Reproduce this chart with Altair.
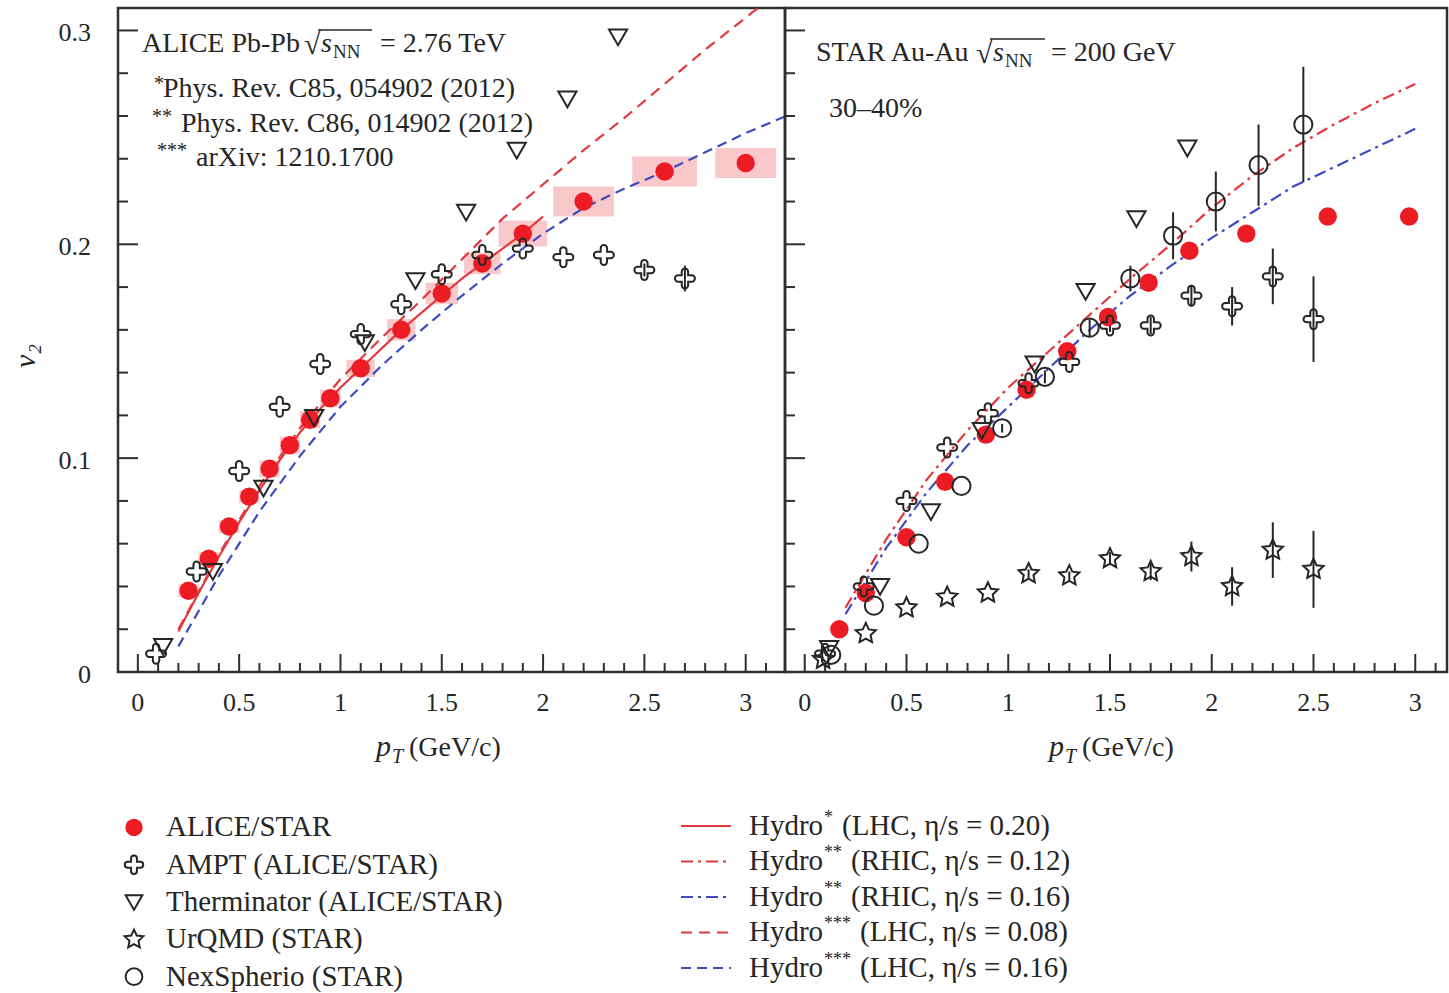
import math
import altair as alt
import pandas as pd

SERIF = "Liberation Serif"
INK = "#262626"
FRAME = "#2f2f2f"
RED_PT = "#ec1b24"
RED_LN = "#e2393f"
BLUE_LN = "#3e4bc2"
PINK = "#f7c2c5"

# plot-area sizes of the two panels and their scale domains
W_LEFT, W_RIGHT, H_PLOT = 667, 662, 664
X_DOM_LEFT = [-0.098, 3.194]
X_DOM_RIGHT = [-0.097, 3.156]
Y_DOM = [0.0, 0.3105]

# ---------------- ALICE Pb-Pb, 2.76 TeV (left panel) ----------------
alice_pt = [0.25, 0.35, 0.45, 0.55, 0.65, 0.75, 0.85, 0.95, 1.1, 1.3, 1.5, 1.7, 1.9, 2.2, 2.6, 3.0]
alice_v2 = [0.038, 0.053, 0.068, 0.082, 0.095, 0.106, 0.118, 0.128, 0.142, 0.160, 0.177, 0.191,
            0.205, 0.220, 0.234, 0.238]
alice_sys_pt = [0.05, 0.05, 0.05, 0.05, 0.05, 0.05, 0.05, 0.05, 0.07, 0.07, 0.08, 0.09, 0.12, 0.15, 0.16, 0.15]
alice_sys_v2 = [0.003, 0.003, 0.003, 0.003, 0.004, 0.004, 0.004, 0.004, 0.004, 0.005, 0.005, 0.005,
                0.006, 0.007, 0.007, 0.007]

ampt_alice_pt = [0.09, 0.29, 0.5, 0.7, 0.9, 1.1, 1.3, 1.5, 1.7, 1.9, 2.1, 2.3, 2.5, 2.7]
ampt_alice_v2 = [0.0085, 0.047, 0.094, 0.124, 0.144, 0.158, 0.172, 0.186, 0.195, 0.198, 0.194, 0.195,
                 0.188, 0.184]
ampt_alice_err = [0, 0, 0, 0, 0, 0, 0, 0, 0, 0, 0, 0, 0.003, 0.006]

therm_alice_pt = [0.125, 0.37, 0.62, 0.87, 1.12, 1.37, 1.62, 1.87, 2.12, 2.37]
therm_alice_v2 = [0.012, 0.047, 0.086, 0.119, 0.154, 0.183, 0.215, 0.244, 0.268, 0.297]

hydro_lhc020_pt = [0.2, 0.3, 0.4, 0.5, 0.6, 0.7, 0.8, 0.9, 1.0, 1.1, 1.2, 1.3, 1.4, 1.5, 1.6, 1.7, 1.8, 1.9, 2.0]
hydro_lhc020_v2 = [0.019, 0.037, 0.054, 0.070, 0.085, 0.099, 0.112, 0.123, 0.133, 0.142, 0.151, 0.160,
                   0.168, 0.176, 0.184, 0.191, 0.198, 0.205, 0.213]
hydro_lhc008_pt = [0.2, 0.4, 0.6, 0.8, 1.0, 1.2, 1.4, 1.6, 1.8, 2.0, 2.2, 2.4, 2.6, 2.8, 3.0, 3.2]
hydro_lhc008_v2 = [0.020, 0.055, 0.087, 0.114, 0.137, 0.156, 0.174, 0.193, 0.212, 0.228, 0.244, 0.259,
                   0.275, 0.291, 0.306, 0.321]
hydro_lhc016_pt = [0.2, 0.4, 0.6, 0.8, 1.0, 1.2, 1.4, 1.6, 1.8, 2.0, 2.2, 2.4, 2.6, 2.8, 3.0, 3.2]
hydro_lhc016_v2 = [0.012, 0.045, 0.075, 0.101, 0.124, 0.143, 0.160, 0.176, 0.191, 0.205, 0.217, 0.226,
                   0.234, 0.243, 0.252, 0.260]

# ---------------- STAR Au-Au, 200 GeV, 30-40% (right panel) ----------------
star_pt = [0.17, 0.30, 0.50, 0.69, 0.89, 1.09, 1.29, 1.49, 1.69, 1.89, 2.17, 2.57, 2.97]
star_v2 = [0.020, 0.037, 0.063, 0.089, 0.111, 0.132, 0.150, 0.166, 0.182, 0.197, 0.205, 0.213, 0.213]

ampt_star_pt = [0.1, 0.29, 0.5, 0.7, 0.9, 1.1, 1.3, 1.5, 1.7, 1.9, 2.1, 2.3, 2.5]
ampt_star_v2 = [0.0085, 0.040, 0.080, 0.105, 0.121, 0.135, 0.145, 0.162, 0.162, 0.176, 0.171, 0.185, 0.165]
ampt_star_err = [0, 0, 0, 0, 0, 0, 0, 0.003, 0.004, 0.005, 0.009, 0.013, 0.020]

therm_star_pt = [0.12, 0.37, 0.62, 0.87, 1.13, 1.38, 1.63, 1.88]
therm_star_v2 = [0.011, 0.040, 0.075, 0.113, 0.144, 0.178, 0.212, 0.245]

urqmd_pt = [0.09, 0.3, 0.5, 0.7, 0.9, 1.1, 1.3, 1.5, 1.7, 1.9, 2.1, 2.3, 2.5]
urqmd_v2 = [0.006, 0.018, 0.030, 0.035, 0.037, 0.046, 0.045, 0.053, 0.047, 0.054, 0.040, 0.057, 0.048]
urqmd_err = [0, 0, 0, 0, 0, 0.002, 0.002, 0.003, 0.004, 0.007, 0.009, 0.013, 0.018]

nex_pt = [0.13, 0.34, 0.56, 0.77, 0.97, 1.18, 1.40, 1.60, 1.81, 2.02, 2.23, 2.45]
nex_v2 = [0.008, 0.031, 0.060, 0.087, 0.114, 0.138, 0.161, 0.184, 0.204, 0.220, 0.237, 0.256]
nex_err = [0, 0, 0, 0, 0.002, 0.003, 0.004, 0.006, 0.011, 0.014, 0.019, 0.027]

hydro_rhic012_pt = [0.2, 0.4, 0.6, 0.8, 1.0, 1.2, 1.4, 1.6, 1.8, 2.0, 2.2, 2.4, 2.6, 2.8, 3.0]
hydro_rhic012_v2 = [0.030, 0.062, 0.090, 0.113, 0.133, 0.150, 0.167, 0.184, 0.200, 0.217, 0.232, 0.245,
                    0.256, 0.266, 0.275]
hydro_rhic016_pt = [0.2, 0.4, 0.6, 0.8, 1.0, 1.2, 1.4, 1.6, 1.8, 2.0, 2.2, 2.4, 2.6, 2.8, 3.0]
hydro_rhic016_v2 = [0.027, 0.058, 0.084, 0.106, 0.124, 0.142, 0.160, 0.176, 0.190, 0.203, 0.215, 0.227,
                    0.236, 0.245, 0.254]

# ---------------- axis ticks and labels ----------------
x_labels = [0, 0.5, 1, 1.5, 2, 2.5, 3]
x_minor = [0.1, 0.2, 0.3, 0.4, 0.6, 0.7, 0.8, 0.9, 1.1, 1.2, 1.3, 1.4, 1.6, 1.7, 1.8, 1.9,
           2.1, 2.2, 2.3, 2.4, 2.6, 2.7, 2.8, 2.9, 3.1]
y_labels = [0, 0.1, 0.2, 0.3]
y_major = [0.1, 0.2, 0.3]
y_minor = [0.02, 0.04, 0.06, 0.08, 0.12, 0.14, 0.16, 0.18, 0.22, 0.24, 0.26, 0.28]

# ---------------- legend entries ----------------
marker_labels = ["ALICE/STAR", "AMPT (ALICE/STAR)", "Therminator (ALICE/STAR)", "UrQMD (STAR)",
                 "NexSpherio (STAR)"]
marker_kinds = ["data", "ampt", "therm", "urqmd", "nex"]
line_models = ["lhc020", "rhic012", "rhic016", "lhc008", "lhc016"]
line_marks = ["*", "**", "**", "***", "***"]
line_texts = ["(LHC, η/s = 0.20)", "(RHIC, η/s = 0.12)", "(RHIC, η/s = 0.16)",
              "(LHC, η/s = 0.08)", "(LHC, η/s = 0.16)"]

# ---------------- styles (one colour / dash scale shared by every view) ----------------
MODEL_COLOR = {"lhc020": RED_LN, "rhic012": RED_LN, "rhic016": BLUE_LN, "lhc008": RED_LN, "lhc016": BLUE_LN}
MODEL_DASH = {"lhc020": [1, 0], "rhic012": [12, 5, 3, 5], "rhic016": [12, 5, 3, 5],
              "lhc008": [11, 7], "lhc016": [10, 6]}
COLOR_SCALE = alt.Scale(domain=line_models, range=[MODEL_COLOR[m] for m in line_models])
DASH_SCALE = alt.Scale(domain=line_models, range=[MODEL_DASH[m] for m in line_models])


def star_path(n=5, r_out=1.0, r_in=0.48):
    pts = []
    for k in range(2 * n):
        a = -math.pi / 2 + k * math.pi / n
        r = r_out if k % 2 == 0 else r_in
        pts.append(f"{r * math.cos(a):.3f} {r * math.sin(a):.3f}")
    return "M " + " L ".join(pts) + " Z"


CROSS = ("M -0.32 -0.32 L -0.32 -0.68 A 0.32 0.32 0 0 1 0.32 -0.68 L 0.32 -0.32 L 0.68 -0.32 "
         "A 0.32 0.32 0 0 1 0.68 0.32 L 0.32 0.32 L 0.32 0.68 A 0.32 0.32 0 0 1 -0.32 0.68 "
         "L -0.32 0.32 L -0.68 0.32 A 0.32 0.32 0 0 1 -0.68 -0.32 Z")
TRI_DOWN = "M -1 -0.82 L 1 -0.82 L 0 0.92 Z"
STAR = star_path()
SHAPE = {"ampt": (CROSS, 400), "therm": (TRI_DOWN, 330), "urqmd": (STAR, 450), "nex": ("circle", 330)}

ONE = pd.DataFrame({"k": [0]})
Y_SCALE = alt.Scale(domain=Y_DOM, nice=False, zero=False)


def txt(s, x, y, size=28, italic=False, align="left", baseline="alphabetic", angle=0, dy=0):
    kw = dict(text=s, font=SERIF, fontSize=size, align=align, baseline=baseline, color=INK)
    if italic:
        kw["fontStyle"] = "italic"
    if angle:
        kw["angle"] = angle
    if dy:
        kw["dy"] = dy
    return alt.Chart(ONE).mark_text(**kw).encode(x=alt.value(x), y=alt.value(y))


def hline(x1, x2, y):
    return alt.Chart(ONE).mark_rule(color=INK, strokeWidth=1.4).encode(
        x=alt.value(x1), x2=alt.value(x2), y=alt.value(y))


def points_df(pt, v2, err=None):
    d = pd.DataFrame({"pt": pt, "v2": v2})
    if err is not None:
        d["err"] = err
    return d


def curves_df(parts):
    frames = [pd.DataFrame({"model": m, "pt": p, "v2": v}) for m, p, v in parts]
    return pd.concat(frames, ignore_index=True)


def build_panel(x_dom, width, show_y_labels, boxes, reds, opens, errs, curves, texts):
    xs = alt.Scale(domain=x_dom, nice=False, zero=False)
    X = lambda field="pt": alt.X(f"{field}:Q", scale=xs, axis=None)
    Y = lambda field="v2": alt.Y(f"{field}:Q", scale=Y_SCALE, axis=None)

    layers = []
    # inward ticks along the bottom edge, with the tick labels beneath
    layers.append(alt.Chart(pd.DataFrame({"pt": x_labels})).mark_rule(color=FRAME, strokeWidth=2).encode(
        x=X(), y=alt.value(H_PLOT), y2=alt.value(H_PLOT - 18)))
    layers.append(alt.Chart(pd.DataFrame({"pt": x_minor})).mark_rule(color=FRAME, strokeWidth=2).encode(
        x=X(), y=alt.value(H_PLOT), y2=alt.value(H_PLOT - 9)))
    layers.append(alt.Chart(pd.DataFrame({"pt": x_labels})).mark_text(
        font=SERIF, fontSize=26, color=INK, align="center", baseline="middle").encode(
        x=X(), y=alt.value(H_PLOT + 31), text=alt.Text("pt:Q", format="~g")))
    # inward ticks along the left edge
    layers.append(alt.Chart(pd.DataFrame({"v2": y_major})).mark_rule(color=FRAME, strokeWidth=2).encode(
        y=Y(), x=alt.value(0), x2=alt.value(20)))
    layers.append(alt.Chart(pd.DataFrame({"v2": y_minor})).mark_rule(color=FRAME, strokeWidth=2).encode(
        y=Y(), x=alt.value(0), x2=alt.value(10)))
    if show_y_labels:
        layers.append(alt.Chart(pd.DataFrame({"v2": y_labels})).mark_text(
            font=SERIF, fontSize=26, color=INK, align="right", baseline="middle", dy=3).encode(
            y=Y(), x=alt.value(-27), text=alt.Text("v2:Q", format="~g")))

    if boxes is not None:
        layers.append(alt.Chart(boxes).transform_calculate(
            x1="datum.pt - datum.dpt", x2="datum.pt + datum.dpt",
            y1="datum.v2 - datum.dv2", y2="datum.v2 + datum.dv2",
        ).mark_rect(color=PINK, opacity=0.9).encode(
            x=X("x1"), x2="x2:Q", y=Y("y1"), y2="y2:Q"))

    layers.append(alt.Chart(curves).mark_line(clip=True, strokeWidth=2.2).encode(
        x=X(), y=Y(), order="pt:Q",
        color=alt.Color("model:N", scale=COLOR_SCALE, legend=None),
        strokeDash=alt.StrokeDash("model:N", scale=DASH_SCALE, legend=None)))

    for e in errs:
        layers.append(alt.Chart(e).transform_filter("datum.err > 0").transform_calculate(
            lo="datum.v2 - datum.err", hi="datum.v2 + datum.err",
        ).mark_rule(color=INK, strokeWidth=2).encode(x=X(), y=Y("lo"), y2="hi:Q"))

    layers.append(alt.Chart(reds).mark_circle(size=340, color=RED_PT, opacity=1).encode(x=X(), y=Y()))

    for kind, d in opens:
        shape, size = SHAPE[kind]
        layers.append(alt.Chart(d).mark_point(shape=shape, size=size, filled=False, color=INK,
                                              strokeWidth=2, opacity=1).encode(x=X(), y=Y()))
    layers.extend(texts)
    return alt.layer(*layers).properties(width=width, height=H_PLOT)


# ---------------- left panel ----------------
alice_boxes = pd.DataFrame({"pt": alice_pt, "v2": alice_v2, "dpt": alice_sys_pt, "dv2": alice_sys_v2})
ampt_alice = points_df(ampt_alice_pt, ampt_alice_v2, ampt_alice_err)
left_curves = curves_df([("lhc020", hydro_lhc020_pt, hydro_lhc020_v2),
                         ("lhc008", hydro_lhc008_pt, hydro_lhc008_v2),
                         ("lhc016", hydro_lhc016_pt, hydro_lhc016_v2)])
left_texts = [
    txt("ALICE Pb-Pb", 24, 44),
    txt("√", 186, 46, size=30),
    hline(200, 254, 22),
    txt("s", 203, 44, italic=True),
    txt("NN", 215, 50, size=19),
    txt("= 2.76 TeV", 262, 44),
    txt("*", 36, 82, size=20),
    txt("Phys. Rev. C85, 054902 (2012)", 45, 89),
    txt("**", 34, 115, size=20),
    txt("Phys. Rev. C86, 014902 (2012)", 63, 124),
    txt("***", 39, 149, size=20),
    txt("arXiv: 1210.1700", 78, 158),
    txt("p", 258, 748, size=30, italic=True),
    txt("T", 274, 755, size=20, italic=True),
    txt("(GeV/c)", 291, 748),
    txt("v₂", -92, 348, size=30, italic=True, align="center", baseline="middle", angle=270),
]
left = build_panel(X_DOM_LEFT, W_LEFT, True, alice_boxes, points_df(alice_pt, alice_v2),
                   [("ampt", ampt_alice), ("therm", points_df(therm_alice_pt, therm_alice_v2))],
                   [ampt_alice], left_curves, left_texts)

# ---------------- right panel ----------------
ampt_star = points_df(ampt_star_pt, ampt_star_v2, ampt_star_err)
urqmd = points_df(urqmd_pt, urqmd_v2, urqmd_err)
nex = points_df(nex_pt, nex_v2, nex_err)
right_curves = curves_df([("rhic012", hydro_rhic012_pt, hydro_rhic012_v2),
                          ("rhic016", hydro_rhic016_pt, hydro_rhic016_v2)])
right_texts = [
    txt("STAR Au-Au", 31, 53),
    txt("√", 191, 55, size=30),
    hline(205, 260, 31),
    txt("s", 208, 53, italic=True),
    txt("NN", 220, 59, size=19),
    txt("= 200 GeV", 266, 53),
    txt("30–40%", 44, 109),
    txt("p", 264, 748, size=30, italic=True),
    txt("T", 280, 755, size=20, italic=True),
    txt("(GeV/c)", 297, 748),
]
right = build_panel(X_DOM_RIGHT, W_RIGHT, False, None, points_df(star_pt, star_v2),
                    [("ampt", ampt_star), ("therm", points_df(therm_star_pt, therm_star_v2)),
                     ("urqmd", urqmd), ("nex", nex)],
                    [ampt_star, urqmd, nex], right_curves, right_texts)

# ---------------- legend ----------------
LEG_H = 200
row_left = alt.Scale(domain=[-1.139, 4.223], reverse=True)
row_right = alt.Scale(domain=[-1.155, 4.479], reverse=True)
leg_m = pd.DataFrame({"row": list(range(5)), "label": marker_labels, "kind": marker_kinds})
leg_l = pd.DataFrame({"row": list(range(5)), "model": line_models, "marks": line_marks, "rest": line_texts})
REST_X = [724, 733, 733, 742, 742]

yl = alt.Y("row:Q", scale=row_left, axis=None)
yr = alt.Y("row:Q", scale=row_right, axis=None)
legend_layers = [
    alt.Chart(leg_m).transform_filter("datum.kind == 'data'").mark_circle(size=300, color=RED_PT, opacity=1)
    .encode(x=alt.value(16), y=yl),
]
for kind in ["ampt", "therm", "urqmd", "nex"]:
    shape, size = SHAPE[kind]
    legend_layers.append(
        alt.Chart(leg_m).transform_filter(f"datum.kind == '{kind}'")
        .mark_point(shape=shape, size=size * 0.85, filled=False, color=INK, strokeWidth=2, opacity=1)
        .encode(x=alt.value(16), y=yl))
legend_layers.append(
    alt.Chart(leg_m).mark_text(font=SERIF, fontSize=29, align="left", baseline="middle", color=INK)
    .encode(x=alt.value(48), y=yl, text="label:N"))
legend_layers.append(
    alt.Chart(leg_l).mark_rule(strokeWidth=2.2).encode(
        x=alt.value(563), x2=alt.value(613), y=yr,
        color=alt.Color("model:N", scale=COLOR_SCALE, legend=None),
        strokeDash=alt.StrokeDash("model:N", scale=DASH_SCALE, legend=None)))
legend_layers.append(
    alt.Chart(leg_l).mark_text(text="Hydro", font=SERIF, fontSize=29, align="left", baseline="middle",
                               color=INK).encode(x=alt.value(631), y=yr))
legend_layers.append(
    alt.Chart(leg_l).mark_text(font=SERIF, fontSize=18, align="left", baseline="middle", color=INK, dy=-8)
    .encode(x=alt.value(706), y=yr, text="marks:N"))
for i in range(5):
    legend_layers.append(
        alt.Chart(leg_l).transform_filter(f"datum.row == {i}")
        .mark_text(font=SERIF, fontSize=29, align="left", baseline="middle", color=INK)
        .encode(x=alt.value(REST_X[i]), y=yr, text="rest:N"))

legend = alt.layer(*legend_layers).resolve_scale(y="independent").properties(
    width=W_LEFT, height=LEG_H, view=alt.ViewBackground(stroke="transparent"))

chart = alt.concat(left, right, legend, columns=2, spacing={"row": 113, "column": 0},
                   bounds="flush", align="each").properties(
    padding={"left": 9, "top": 6, "right": 0, "bottom": 0},
    background="white",
).configure_view(stroke=FRAME, strokeWidth=2.5)

chart.save("out.html", embed_options={"renderer": "svg", "actions": False})
